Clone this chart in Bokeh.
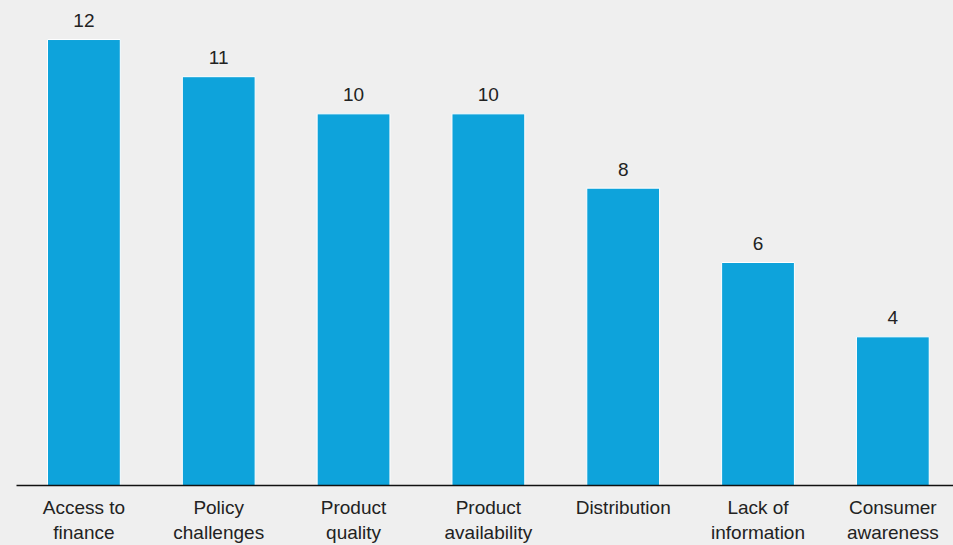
from bokeh.plotting import figure
from bokeh.models import ColumnDataSource, Range1d, FixedTicker
from bokeh.core.properties import value
from bokeh.embed import file_html
from bokeh.resources import INLINE

categories = ["Access to\nfinance", "Policy\nchallenges", "Product\nquality",
              "Product\navailability", "Distribution", "Lack of\ninformation",
              "Consumer\nawareness"]
values = [12, 11, 10, 10, 8, 6, 4]
labels = [str(v) for v in values]

BG = "#efefef"
BAR = "#0ea3db"
TXT = "#222222"
FONT = "Liberation Sans"

xs = list(range(len(categories)))
src = ColumnDataSource(dict(x=xs, top=values, lab=labels))

p = figure(width=953, height=545, output_backend="svg", toolbar_location=None,
           x_range=Range1d(-0.5, 6.45), y_range=Range1d(0, 13.05),
           min_border_left=16, min_border_right=0, min_border_top=0,
           min_border_bottom=59)
p.background_fill_color = BG
p.border_fill_color = BG
p.outline_line_color = None
p.grid.visible = False
p.yaxis.visible = False

p.vbar(x="x", top="top", width=0.54, bottom=0, source=src,
       fill_color=BAR, line_color="white", line_width=1)

p.text(x="x", y="top", text="lab", source=src, text_align="center",
       text_baseline="alphabetic", y_offset=-19, text_color=TXT,
       text_font=value(FONT), text_font_size="19px")

ax = p.xaxis[0]
ax.ticker = FixedTicker(ticks=xs)
ax.major_label_overrides = {i: c for i, c in enumerate(categories)}
ax.major_tick_line_color = None
ax.minor_tick_line_color = None
ax.axis_line_color = "#111111"
ax.axis_line_width = 1.5
ax.major_label_text_font = FONT
ax.major_label_text_font_size = "19px"
ax.major_label_text_color = TXT
ax.major_label_standoff = 5

html = file_html(p, INLINE)
html = html.replace("</head>", "<style>html, body { background-color: #efefef; }</style>\n</head>", 1)
open("out.html", "w").write(html)
